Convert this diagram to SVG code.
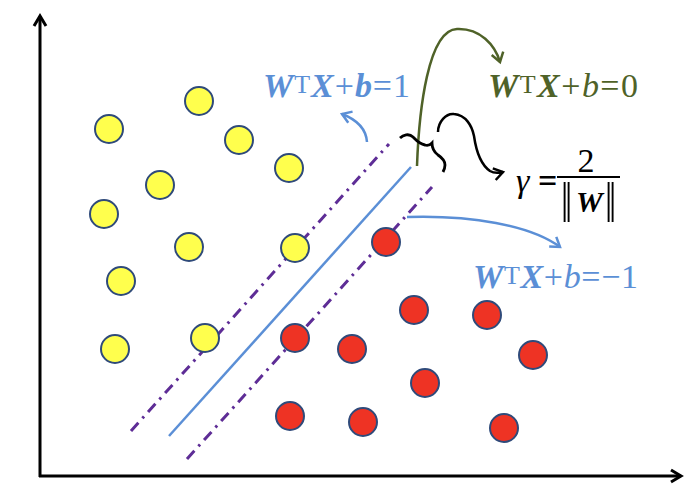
<svg xmlns="http://www.w3.org/2000/svg" width="700" height="495" viewBox="0 0 700 495">
<style>
.yel{fill:#FFFF4D;stroke:#2F4A7A;stroke-width:2}
.red{fill:#EE3324;stroke:#2F4A7A;stroke-width:2}
.ax{stroke:#000;stroke-width:3;fill:none}
.dd{stroke:#5E2D96;stroke-width:3;fill:none;stroke-dasharray:11 6 2.5 6}
.sb{stroke:#5B8FD6;stroke-width:2.5;fill:none}
.lbl{font-family:"Liberation Serif","Times New Roman",serif;font-size:34px}
.bi{font-weight:bold;font-style:italic}
.i{font-style:italic}
.sup{font-size:26px}
</style>
<defs>
<marker id="ak" markerUnits="userSpaceOnUse" markerWidth="14" markerHeight="16" refX="11" refY="7" orient="auto" overflow="visible"><path d="M1,1 L11,7 L1,13" fill="none" stroke="#000" stroke-width="3"/></marker>
<marker id="ab" markerUnits="userSpaceOnUse" markerWidth="14" markerHeight="16" refX="10" refY="7" orient="auto" overflow="visible"><path d="M1,1 L10,7 L1,13" fill="none" stroke="#5B8FD6" stroke-width="2.5"/></marker>
<marker id="ag" markerUnits="userSpaceOnUse" markerWidth="14" markerHeight="16" refX="10" refY="7" orient="auto" overflow="visible"><path d="M1,1 L10,7 L1,13" fill="none" stroke="#4F6228" stroke-width="2.5"/></marker>
<marker id="ac" markerUnits="userSpaceOnUse" markerWidth="14" markerHeight="16" refX="10" refY="7" orient="auto" overflow="visible"><path d="M1,1 L10,7 L1,13" fill="none" stroke="#000" stroke-width="2.5"/></marker>
</defs>
<rect width="700" height="495" fill="#fff"/>
<g id="axes">
<line class="ax" x1="40" y1="477" x2="40" y2="16" marker-end="url(#ak)"/>
<line class="ax" x1="39" y1="476" x2="681" y2="476" marker-end="url(#ak)"/>
</g>
<g id="hyperplanes">
<line class="dd" x1="131" y1="431" x2="389" y2="144"/>
<line class="sb" x1="169" y1="436" x2="411" y2="167"/>
<line class="dd" x1="187" y1="459" x2="432" y2="187"/>
</g>
<g id="yellow-points">
<circle class="yel" cx="199" cy="101" r="14"/>
<circle class="yel" cx="109" cy="129" r="14"/>
<circle class="yel" cx="239" cy="140" r="14"/>
<circle class="yel" cx="289" cy="168" r="14"/>
<circle class="yel" cx="160" cy="185" r="14"/>
<circle class="yel" cx="104" cy="214" r="14"/>
<circle class="yel" cx="189" cy="247" r="14"/>
<circle class="yel" cx="295" cy="248" r="14"/>
<circle class="yel" cx="121" cy="281" r="14"/>
<circle class="yel" cx="205" cy="338" r="14"/>
<circle class="yel" cx="115" cy="349" r="14"/>
</g>
<g id="red-points">
<circle class="red" cx="386" cy="242" r="14"/>
<circle class="red" cx="414" cy="310" r="14"/>
<circle class="red" cx="487" cy="315" r="14"/>
<circle class="red" cx="295" cy="338" r="14"/>
<circle class="red" cx="352" cy="349" r="14"/>
<circle class="red" cx="533" cy="355" r="14"/>
<circle class="red" cx="425" cy="383" r="14"/>
<circle class="red" cx="290" cy="416" r="14"/>
<circle class="red" cx="363" cy="422" r="14"/>
<circle class="red" cx="504" cy="428" r="14"/>
</g>
<g id="connectors">
<path d="M417,166 C419,110 428,30 457,29 C480,28 495,45 500,62" fill="none" stroke="#4F6228" stroke-width="2.5" marker-end="url(#ag)"/>
<path d="M400,138 C403,135 409,133 413,137 C416,140 419,144 425,145 C428,146 431,144 432,143 C432,147 434,152 438,155 C441,157 445,160 445,165 C445,168 444,170 443,172" fill="none" stroke="#000" stroke-width="2.8"/>
<path d="M438,132 C438,122 446,113 454,114 C466,115 472,126 474,136 C476,150 480,164 490,171 C495,174 499,173 503,172" fill="none" stroke="#000" stroke-width="2.5" marker-end="url(#ac)"/>
<path d="M367,142 C366,128 355,119 342,114" fill="none" stroke="#5B8FD6" stroke-width="2.5" marker-end="url(#ab)"/>
<path d="M407,217 C470,215 530,225 560,247" fill="none" stroke="#5B8FD6" stroke-width="2.5" marker-end="url(#ab)"/>
</g>
<g id="label-plus1" fill="#5B8FD6">
<text class="lbl" x="263" y="97" textLength="147" lengthAdjust="spacing"><tspan class="bi">W</tspan><tspan class="sup" dy="-4">T</tspan><tspan class="bi" dy="4">X</tspan><tspan>+</tspan><tspan class="bi">b</tspan><tspan>=1</tspan></text>
</g>
<g id="label-zero" fill="#4F6228">
<text class="lbl" x="488" y="97" textLength="150" lengthAdjust="spacing"><tspan class="bi">W</tspan><tspan class="sup" dy="-4">T</tspan><tspan class="bi" dy="4">X</tspan><tspan>+</tspan><tspan class="i">b</tspan><tspan>=0</tspan></text>
</g>
<g id="label-minus1" fill="#5B8FD6">
<text class="lbl" x="473" y="288" textLength="165" lengthAdjust="spacing"><tspan class="bi">W</tspan><tspan class="sup" dy="-4">T</tspan><tspan class="bi" dy="4">X</tspan><tspan>+</tspan><tspan class="i">b</tspan><tspan>=−1</tspan></text>
</g>
<g id="label-gamma" fill="#000">
<text class="lbl i" x="516" y="192">γ</text>
<text class="lbl" x="538" y="192" font-weight="bold">=</text>
<text class="lbl" x="586" y="172" text-anchor="middle">2</text>
<line x1="557" y1="177" x2="620" y2="177" stroke="#000" stroke-width="2"/>
<text class="lbl" transform="translate(561,222) scale(1,1.45)" style="font-size:40px">‖</text>
<text class="lbl bi" x="576" y="212" style="font-size:30px">W</text>
<text class="lbl" transform="translate(605,222) scale(1,1.45)" style="font-size:40px">‖</text>
</g>
</svg>
